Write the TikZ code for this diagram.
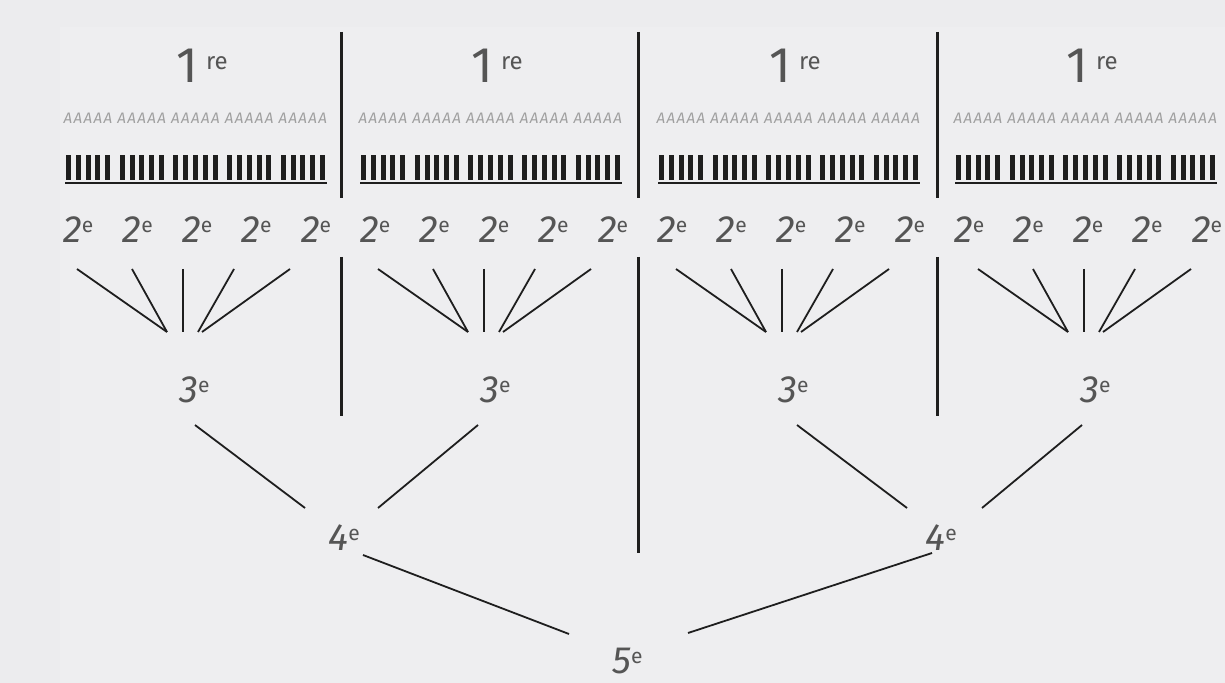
\documentclass[tikz,border=0pt]{standalone}
\usepackage{fontspec}
\setmainfont{Fira Sans}
\definecolor{bgout}{HTML}{ECECEE}
\definecolor{bgin}{HTML}{EEEEF0}
\definecolor{ink}{HTML}{1E1E1E}
\definecolor{numgray}{HTML}{555555}
\definecolor{agray}{HTML}{A0A0A0}
\newcommand{\ordlbl}[2]{{\fontsize{19}{19}\selectfont\itshape #1}\raisebox{5pt}{\fontsize{10.5}{10.5}\selectfont #2}}
\newcommand{\firstlbl}{{\fontsize{25}{25}\selectfont 1}\hspace{4pt}\raisebox{6.5pt}{\fontsize{12}{12}\selectfont re}}

\begin{document}
\begin{tikzpicture}[x=0.5pt, y=-0.5pt,
    lbl/.style={inner sep=0pt, anchor=base west, text=numgray},
    alpha/.style={inner sep=0pt, text=agray, font=\fontsize{7.6}{7.6}\selectfont\itshape\addfontfeatures{LetterSpace=9}},
    link/.style={draw=ink, line width=0.9pt},
    sep/.style={draw=ink, line width=1.5pt}]
    \useasboundingbox (0,0) rectangle (1225,683);
    \fill[bgout] (0,0) rectangle (1225,683);
    \fill[bgin] (60,27) rectangle (1225,683);

    % four panels
    \foreach \p/\bx/\c in {0/65/183, 1/360/484, 2/658/782, 3/955/1084} {
        \node[lbl] (title\p) at (\bx+111,83) {\firstlbl};
        \foreach \j in {0,...,4} {
            \node[alpha] (alpha\p\j) at (\bx+23+53.7*\j,118) {AAAAA};
            \foreach \i in {0,...,4}
                \fill[ink] (\bx+1+53.7*\j+9.8*\i,155) rectangle ++(5,25);
        }
        \draw[ink, line width=0.8pt] (\bx,183) -- (\bx+262,183);
        \foreach \k in {0,...,4}
            \node[lbl] (two\p\k) at (63+59.4*\p*5+59.4*\k,243) {\ordlbl{2}{e}};
        \node[lbl] (three\p) at (\c-4,403) {\ordlbl{3}{e}};
        % fan into the 3e
        \foreach \k/\tx/\ex in {0/-106/-16, 1/-51/-16, 2/0/0, 3/51/15, 4/107/19} {
            \coordinate (ftop\p\k) at (\c+\tx,269);
            \coordinate (fbot\p\k) at (\c+\ex,332);
            \draw[link] (ftop\p\k) -- (fbot\p\k);
        }
    }

    \node[lbl] (fourL) at (328,550) {\ordlbl{4}{e}};
    \node[lbl] (fourR) at (925,550) {\ordlbl{4}{e}};
    \node[lbl] (five) at (612,673) {\ordlbl{5}{e}};

    \coordinate (a0) at (195,425);  \coordinate (a1) at (305,508);
    \coordinate (b0) at (478,425);  \coordinate (b1) at (378,508);
    \coordinate (c0) at (797,425);  \coordinate (c1) at (907,508);
    \coordinate (d0) at (1082,425); \coordinate (d1) at (982,508);
    \coordinate (e0) at (363,555);  \coordinate (e1) at (569,634);
    \coordinate (g0) at (932,553);  \coordinate (g1) at (688,633);
    \draw[link] (a0) -- (a1);
    \draw[link] (b0) -- (b1);
    \draw[link] (c0) -- (c1);
    \draw[link] (d0) -- (d1);
    \draw[link] (e0) -- (e1);
    \draw[link] (g0) -- (g1);

    % separators
    \draw[sep] (341,32) -- (341,198) (341,257) -- (341,416);
    \draw[sep] (638,32) -- (638,198) (638,257) -- (638,553);
    \draw[sep] (937,32) -- (937,198) (937,257) -- (937,416);
\end{tikzpicture}
\end{document}
